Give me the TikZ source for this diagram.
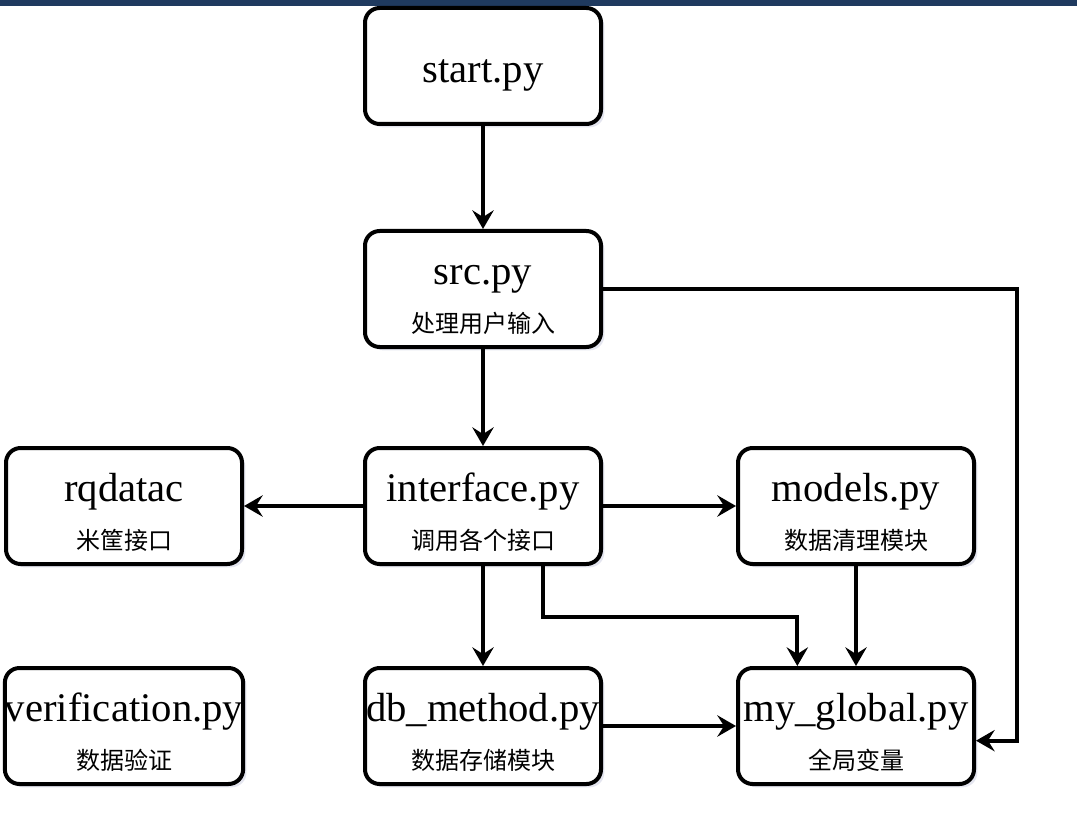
\documentclass[tikz,border=0pt]{standalone}
\usepackage{fontspec}
\setmainfont{Liberation Serif}
\newfontfamily\cjk{Noto Sans CJK SC}
\usetikzlibrary{arrows.meta,shadows,positioning}
\definecolor{topbar}{HTML}{1F3A5F}
\definecolor{shadowblue}{HTML}{C9CCDF}
\newcommand{\modname}[1]{\rule{0pt}{31pt}#1}
\newcommand{\subtxt}[1]{{\cjk\fontsize{18}{22}\selectfont #1}}

\begin{document}
\begin{tikzpicture}
  [
  x=0.75pt, y=0.75pt, line width=3pt,
  modbox/.style={rectangle, rounded corners=11pt, draw=black, fill=white,
    minimum width=177pt, minimum height=87pt, inner xsep=0pt, align=center,
    font=\fontsize{30.5}{36}\selectfont,
    drop shadow={shadow xshift=2.5pt, shadow yshift=-2.5pt, fill=shadowblue}},
  arr/.style={-{Stealth[length=14pt, width=16pt, inset=5pt]}, line join=miter}
  ]

\useasboundingbox (0,0) rectangle (1077,-834);
\fill[topbar] (0,0) rectangle (1077,-6);

% modules
\node[modbox] (start) at (483,-66) {\modname{start.py}};
\node[modbox] (src) at (483,-289) {\modname{src.py}\\[-0.25pt]\subtxt{处理用户输入}};
\node[modbox] (rq) at (124,-506) {\modname{rqdatac}\\[-0.25pt]\subtxt{米筐接口}};
\node[modbox] (iface) at (483,-506) {\modname{interface.py}\\[-0.25pt]\subtxt{调用各个接口}};
\node[modbox] (models) at (856,-506) {\modname{models.py}\\[-0.25pt]\subtxt{数据清理模块}};
\node[modbox] (verif) at (124,-726) {\modname{verification.py}\\[-0.25pt]\subtxt{数据验证}};
\node[modbox] (db) at (483,-726) {\modname{db\_method.py}\\[-0.25pt]\subtxt{数据存储模块}};
\node[modbox] (myg) at (856,-726) {\modname{my\_global.py}\\[-0.25pt]\subtxt{全局变量}};

\coordinate (rt) at (1017,-289);
\coordinate (mid) at (543,-617);

\draw[arr] (start) -- (src);
\draw[arr] (src) -- (iface);
\draw[arr] (src.east) -- (rt) |- ([yshift=-11pt]myg.east);
\draw[arr] (iface) -- (rq);
\draw[arr] (iface) -- (models);
\draw[arr] (iface) -- (db);
\draw[arr] ([xshift=45pt]iface.south) |- (mid) -| ([xshift=-44pt]myg.north);
\draw[arr] (models) -- (myg);
\draw[arr] (db) -- (myg);
\end{tikzpicture}
\end{document}
